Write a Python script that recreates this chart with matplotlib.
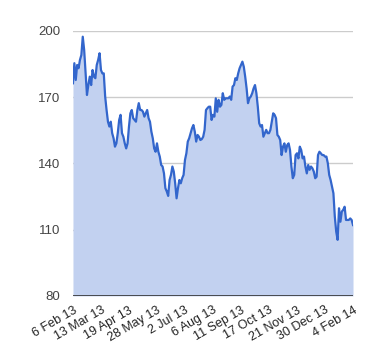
import matplotlib
matplotlib.use('Agg')
import matplotlib.pyplot as plt
import numpy as np

plt.rcParams['font.family'] = ['Liberation Sans', 'DejaVu Sans']

# 주가 종가 (거래일 기준, 그림에서 읽은 값)
prices = [
    176.3, 185.4, 177.8, 184.6, 183.1, 186.9, 189.1, 197.4, 191.4, 180.8,
    171.0, 175.5, 179.3, 175.5, 182.3, 179.3, 178.6, 184.6, 186.9, 189.9,
    182.3, 180.8, 180.8, 170.3, 164.2, 158.9, 156.7, 158.9, 153.7, 151.4,
    147.6, 149.1, 153.7, 159.7, 162.0, 153.7, 152.1, 149.1, 146.8, 149.1,
    156.7, 162.7, 164.2, 160.5, 159.7, 158.9, 164.2, 167.3, 164.2, 164.2,
    163.4, 161.2, 162.7, 164.2, 160.5, 158.9, 154.4, 151.4, 146.8, 145.3,
    149.1, 145.3, 143.1, 139.3, 138.6, 135.5, 128.8, 127.3, 125.3, 132.5,
    134.8, 138.6, 136.3, 131.0, 124.2, 128.8, 132.5, 131.0, 133.3, 134.8,
    141.6, 144.6, 149.9, 151.4, 153.7, 155.9, 157.4, 154.4, 149.9, 152.9,
    152.1, 150.6, 151.0,
    152.1, 155.2, 164.2, 165.0, 165.7, 165.7, 159.7, 162.0, 161.2, 169.5,
    163.4, 168.8, 165.7, 166.5, 171.8, 168.8, 169.5, 169.5, 169.5, 170.3,
    168.8, 174.8, 175.5, 178.6, 177.8, 180.8, 183.1, 184.6, 186.1, 183.8,
    179.3, 174.0, 167.3, 169.5, 170.3, 171.8, 174.0, 175.5, 171.8, 165.7,
    158.2, 156.7, 157.4, 152.1, 153.7, 155.2, 153.7, 153.7, 155.2, 158.9,
    162.7, 162.0, 160.5, 152.9, 152.1, 150.6, 143.8, 147.6, 149.1, 145.3,
    148.3, 149.1, 146.1, 138.6, 133.3, 134.8, 143.8, 144.6, 142.3, 147.6,
    146.1, 142.3, 143.1, 138.6, 135.5, 139.3, 137.1, 138.6, 137.8, 136.3,
    133.3, 134.0, 143.8, 145.3, 144.6, 143.8, 143.8, 143.1, 143.1, 140.1,
    134.8, 132.5, 129.6, 126.5, 115.9, 109.1, 105.4, 119.7, 113.6, 118.2,
    119.0, 120.4, 114.4, 114.4, 114.4, 115.1, 114.4, 112.1,
]

date_labels = ['6 Feb 13', '13 Mar 13', '19 Apr 13', '28 May 13', '2 Jul 13',
               '6 Aug 13', '11 Sep 13', '17 Oct 13', '21 Nov 13', '30 Dec 13',
               '4 Feb 14']
y_ticks = [80, 110, 140, 170, 200]

LINE = '#3366cc'
FILL = '#c2d1f0'
GRID = '#cccccc'
TEXT = '#444444'

fig = plt.figure(figsize=(3.8, 3.6), dpi=100)
fig.patch.set_facecolor('white')
ax = fig.add_axes([0.192, 0.178, 0.737, 0.736])

x = np.arange(len(prices))
ax.fill_between(x, 80, prices, color=FILL, linewidth=0, zorder=2)
ax.plot(x, prices, color=LINE, linewidth=1.6, zorder=3)

ax.set_xlim(0, len(prices) - 1)
ax.set_ylim(80, 200)

ax.set_yticks(y_ticks)
ax.set_yticklabels([str(v) for v in y_ticks], fontsize=9.5, color=TEXT)
for v in y_ticks[1:]:
    ax.axhline(v, color=GRID, linewidth=1, zorder=1)
ax.axhline(80, color='#333333', linewidth=1.2, zorder=4)

ax.set_xticks(np.linspace(0, len(prices) - 1, len(date_labels)))
ax.set_xticklabels(date_labels, fontsize=9, color='#222222',
                   rotation=30, ha='right', rotation_mode='anchor')

ax.tick_params(axis='both', length=0)
ax.tick_params(axis='y', pad=9)
ax.tick_params(axis='x', pad=6)
for s in ax.spines.values():
    s.set_visible(False)

fig.savefig('out.png', dpi=100, facecolor='white')
plt.close(fig)
